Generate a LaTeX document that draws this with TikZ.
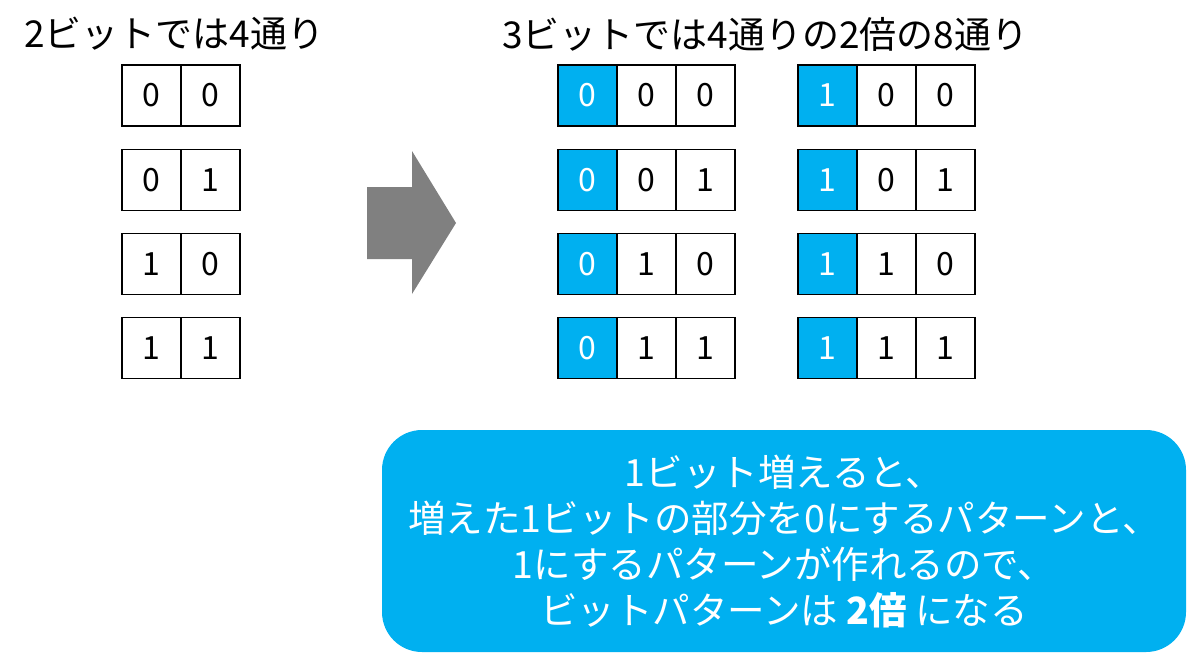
\documentclass[tikz,border=0pt]{standalone}
\usepackage{fontspec}
\setmainfont{Noto Sans CJK JP}
\definecolor{hlblue}{HTML}{00B0F0}
\definecolor{arrowgray}{HTML}{808080}
\tikzset{
  cell/.style={draw=black, line width=1.5pt, fill=white, minimum width=59pt, minimum height=61pt, inner sep=0pt, outer sep=0pt, font=\fontsize{32}{34}\selectfont},
  hicell/.style={cell, fill=hlblue, text=white},
  title/.style={font=\fontsize{37}{42}\selectfont, inner sep=0pt},
  note/.style={fill=hlblue, rounded corners=40pt, text=white, align=center, font=\fontsize{37.5}{46}\selectfont, inner sep=0pt, minimum width=804pt, minimum height=222pt}
}
\begin{document}
\begin{tikzpicture}[x=1pt,y=-1pt]
\useasboundingbox (0,0) rectangle (1188,654);
\node[title, anchor=west] (t1) at (24,34) {2ビットでは4通り};
\node[title, anchor=west] (t2) at (502,34) {3ビットでは4通りの2倍の8通り};
% left 2-bit patterns
\foreach \r/\a/\b [count=\i] in {95.5/0/0, 180/0/1, 264/1/0, 348/1/1}{
  \node[cell] (L\i a) at (151.5,\r) {\a};
  \node[cell] (L\i b) at (210.5,\r) {\b};
}
% right 3-bit patterns
\foreach \r/\a/\b [count=\i] in {95.5/0/0, 180/0/1, 264/1/0, 348/1/1}{
  \node[hicell] (A\i a) at (587.5,\r) {0};
  \node[cell] (A\i b) at (646.5,\r) {\a};
  \node[cell] (A\i c) at (705.5,\r) {\b};
  \node[hicell] (B\i a) at (827.5,\r) {1};
  \node[cell] (B\i b) at (886.5,\r) {\a};
  \node[cell] (B\i c) at (945.5,\r) {\b};
}
% block arrow
\fill[arrowgray] (367,187) -- (412,187) -- (412,151) -- (456,223) -- (412,294) -- (412,259) -- (367,259) -- cycle;
% note box
\node[note] (n) at (784,541) {1ビット増えると、\\増えた1ビットの部分を0にするパターンと、\\1にするパターンが作れるので、\\ビットパターンは \textbf{2倍} になる};
\end{tikzpicture}
\end{document}
